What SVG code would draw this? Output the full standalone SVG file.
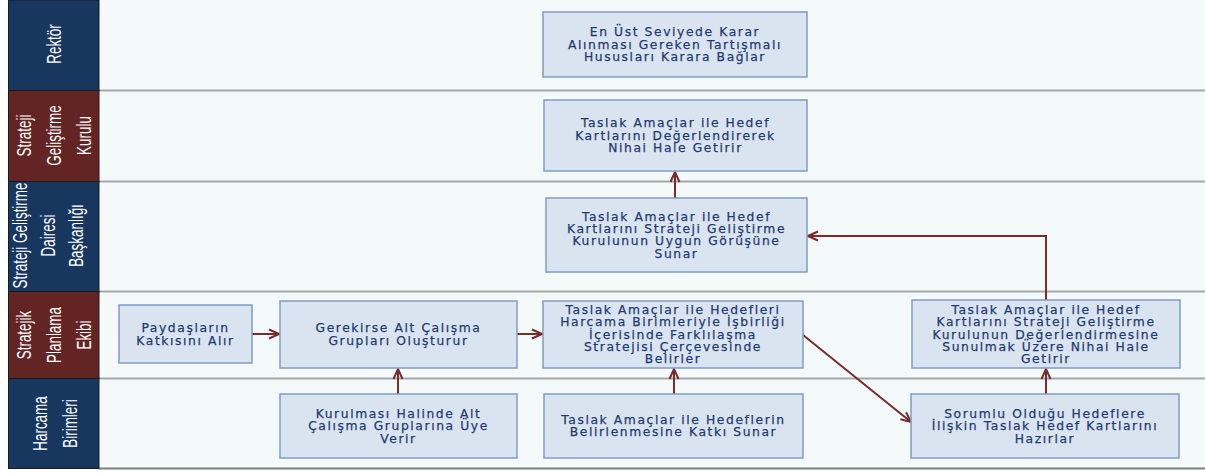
<svg xmlns="http://www.w3.org/2000/svg" width="1205" height="473" viewBox="0 0 1205 473">
  <style>
    .lane-bg { fill: #f4f9fa; }
    .lane-line { stroke: #a6a6a6; stroke-width: 2; }
    .hdr-navy { fill: #17375e; stroke: #1a1a1a; stroke-width: 1; }
    .hdr-maroon { fill: #632523; stroke: #1a1a1a; stroke-width: 1; }
    .hdr-text { font-family: "Liberation Sans", Arial, sans-serif; font-size: 21px; fill: #ffffff; text-anchor: middle; }
    .box { fill: #dae4f0; stroke: #7f9cc8; stroke-width: 1.5; }
    .box-text { font-family: "DejaVu Sans", Verdana, sans-serif; font-size: 12.3px; letter-spacing: 1.6px; fill: #1f3a70; stroke: #1f3a70; stroke-width: 0.25; text-anchor: middle; }
    .conn { fill: none; stroke: #7a2b2b; stroke-width: 2; marker-end: url(#arrow); }
  </style>
  <defs>
    <marker id="arrow" viewBox="0 0 12 12" refX="11" refY="6" markerWidth="12" markerHeight="12" markerUnits="userSpaceOnUse" orient="auto">
      <path d="M1,1.5 L11,6 L1,10.5" fill="none" stroke="#7a2b2b" stroke-width="2"/>
    </marker>
  </defs>

  <!-- swimlane body -->
  <rect class="lane-bg" x="99" y="0" width="1106" height="468"/>
  <g id="lane-lines">
    <line class="lane-line" x1="99" y1="90.5" x2="1205" y2="90.5"/>
    <line class="lane-line" x1="99" y1="181.5" x2="1205" y2="181.5"/>
    <line class="lane-line" x1="99" y1="291.5" x2="1205" y2="291.5"/>
    <line class="lane-line" x1="99" y1="378.5" x2="1205" y2="378.5"/>
    <line x1="99" y1="468.5" x2="1205" y2="468.5" stroke="#7f7f7f" stroke-width="2"/>
  </g>

  <!-- lane headers -->
  <g id="lane-rektor">
    <rect class="hdr-navy" x="8.5" y="0" width="90.5" height="90.5"/>
    <g transform="translate(53.5,44) rotate(-90) scale(0.64,1)">
      <text class="hdr-text" x="0" y="7">Rektör</text>
    </g>
  </g>
  <g id="lane-kurul">
    <rect class="hdr-maroon" x="8.5" y="90.5" width="90.5" height="91"/>
    <g transform="translate(54,135.5) rotate(-90) scale(0.64,1)">
      <text class="hdr-text" x="0" y="-23">Strateji</text>
      <text class="hdr-text" x="0" y="7">Geliştirme</text>
      <text class="hdr-text" x="0" y="37">Kurulu</text>
    </g>
  </g>
  <g id="lane-daire">
    <rect class="hdr-navy" x="8.5" y="181.5" width="90.5" height="110"/>
    <g transform="translate(48,235.5) rotate(-90) scale(0.64,1)">
      <text class="hdr-text" x="0" y="-21">Strateji Geliştirme</text>
      <text class="hdr-text" x="0" y="7">Dairesi</text>
      <text class="hdr-text" x="0" y="35">Başkanlığı</text>
    </g>
  </g>
  <g id="lane-ekip">
    <rect class="hdr-maroon" x="8.5" y="291.5" width="90.5" height="87"/>
    <g transform="translate(54,335) rotate(-90) scale(0.64,1)">
      <text class="hdr-text" x="0" y="-23">Stratejik</text>
      <text class="hdr-text" x="0" y="7">Planlama</text>
      <text class="hdr-text" x="0" y="37">Ekibi</text>
    </g>
  </g>
  <g id="lane-harcama">
    <rect class="hdr-navy" x="8.5" y="378.5" width="90.5" height="90"/>
    <g transform="translate(55,423.5) rotate(-90) scale(0.64,1)">
      <text class="hdr-text" x="0" y="-8">Harcama</text>
      <text class="hdr-text" x="0" y="22">Birimleri</text>
    </g>
  </g>

  <!-- connectors -->
  <g id="connectors">
    <path class="conn" d="M252,334 L279,334"/>
    <path class="conn" d="M517,334 L542,334"/>
    <path class="conn" d="M398,394 L398,369"/>
    <path class="conn" d="M674,394 L674,369"/>
    <path class="conn" d="M803,335 L911,422"/>
    <path class="conn" d="M1046,394 L1046,369"/>
    <path class="conn" d="M1046,300 L1046,236 L808,236"/>
    <path class="conn" d="M675,198 L675,172"/>
  </g>

  <!-- process boxes -->
  <g id="n-karar">
    <rect class="box" x="543" y="12" width="264" height="65"/>
    <text class="box-text" x="675" y="36">En Üst Seviyede Karar</text>
    <text class="box-text" x="675" y="48.5">Alınması Gereken Tartışmalı</text>
    <text class="box-text" x="675" y="61">Hususları Karara Bağlar</text>
  </g>
  <g id="n-nihai">
    <rect class="box" x="544" y="100" width="263" height="71"/>
    <text class="box-text" x="675.5" y="127">Taslak Amaçlar ile Hedef</text>
    <text class="box-text" x="675.5" y="139.5">Kartlarını Değerlendirerek</text>
    <text class="box-text" x="675.5" y="152">Nihai Hale Getirir</text>
  </g>
  <g id="n-sunar">
    <rect class="box" x="546" y="198" width="261" height="74"/>
    <text class="box-text" x="676.5" y="220.5">Taslak Amaçlar ile Hedef</text>
    <text class="box-text" x="676.5" y="233">Kartlarını Strateji Geliştirme</text>
    <text class="box-text" x="676.5" y="245">Kurulunun Uygun Görüşüne</text>
    <text class="box-text" x="676.5" y="257.5">Sunar</text>
  </g>
  <g id="n-paydas">
    <rect class="box" x="119" y="305" width="133" height="58"/>
    <text class="box-text" x="185.5" y="332">Paydaşların</text>
    <text class="box-text" x="185.5" y="344.5">Katkısını Alır</text>
  </g>
  <g id="n-grup">
    <rect class="box" x="280" y="301" width="237" height="67"/>
    <text class="box-text" x="398.5" y="332">Gerekirse Alt Çalışma</text>
    <text class="box-text" x="398.5" y="344.5">Grupları Oluşturur</text>
  </g>
  <g id="n-belirler">
    <rect class="box" x="543" y="301" width="260" height="67"/>
    <text class="box-text" x="673" y="313.5">Taslak Amaçlar ile Hedefleri</text>
    <text class="box-text" x="673" y="326">Harcama Birimleriyle İşbirliği</text>
    <text class="box-text" x="673" y="338.5">İçerisinde Farklılaşma</text>
    <text class="box-text" x="673" y="351">Stratejisi Çerçevesinde</text>
    <text class="box-text" x="673" y="363">Belirler</text>
  </g>
  <g id="n-nihai-ekip">
    <rect class="box" x="912" y="300" width="268" height="68"/>
    <text class="box-text" x="1046" y="313.5">Taslak Amaçlar ile Hedef</text>
    <text class="box-text" x="1046" y="326">Kartlarını Strateji Geliştirme</text>
    <text class="box-text" x="1046" y="338.5">Kurulunun Değerlendirmesine</text>
    <text class="box-text" x="1046" y="351">Sunulmak Üzere Nihai Hale</text>
    <text class="box-text" x="1046" y="363">Getirir</text>
  </g>
  <g id="n-uye">
    <rect class="box" x="280" y="394" width="237" height="64"/>
    <text class="box-text" x="398.5" y="417.5">Kurulması Halinde Alt</text>
    <text class="box-text" x="398.5" y="430">Çalışma Gruplarına Üye</text>
    <text class="box-text" x="398.5" y="442.5">Verir</text>
  </g>
  <g id="n-katki">
    <rect class="box" x="544" y="394" width="259" height="64"/>
    <text class="box-text" x="673.5" y="424">Taslak Amaçlar ile Hedeflerin</text>
    <text class="box-text" x="673.5" y="436">Belirlenmesine Katkı Sunar</text>
  </g>
  <g id="n-kartlar">
    <rect class="box" x="911" y="394" width="268" height="64"/>
    <text class="box-text" x="1045" y="417.5">Sorumlu Olduğu Hedeflere</text>
    <text class="box-text" x="1045" y="430">İlişkin Taslak Hedef Kartlarını</text>
    <text class="box-text" x="1045" y="442.5">Hazırlar</text>
  </g>
</svg>
